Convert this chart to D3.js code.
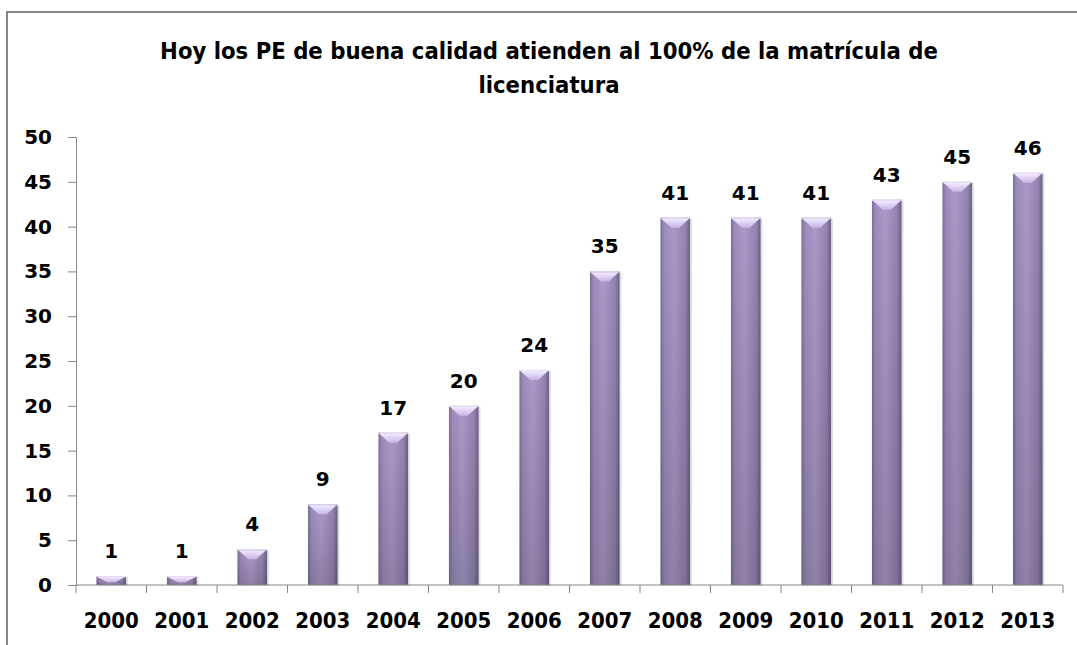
<!DOCTYPE html>
<html>
<head>
<meta charset="utf-8">
<script src="https://cdn.jsdelivr.net/npm/d3@7"></script>
<style>
  html, body { margin: 0; padding: 0; background: #fff; }
  svg { display: block; }
</style>
</head>
<body>
<script>
// data
const years = ["2000", "2001", "2002", "2003", "2004", "2005", "2006",
               "2007", "2008", "2009", "2010", "2011", "2012", "2013"];
const programas = [1, 1, 4, 9, 17, 20, 24, 35, 41, 41, 41, 43, 45, 46];
const yTicks = [0, 5, 10, 15, 20, 25, 30, 35, 40, 45, 50];
const titleLines = ["Hoy los PE de buena calidad atienden al 100% de la matrícula de",
                    "licenciatura"];

const width = 1077, height = 645;
const plotLeft = 76, plotRight = 1063, plotTop = 137, plotBottom = 585;

const svg = d3.select("body").append("svg")
    .attr("width", width)
    .attr("height", height);

const defs = svg.append("defs");

const body = defs.append("linearGradient").attr("id", "barBody")
    .attr("x1", 0).attr("x2", 1).attr("y1", 0).attr("y2", 0);
body.append("stop").attr("offset", 0).attr("stop-color", "#7d6d99");
body.append("stop").attr("offset", 0.12).attr("stop-color", "#9c8bba");
body.append("stop").attr("offset", 0.45).attr("stop-color", "#ab9ac9");
body.append("stop").attr("offset", 0.85).attr("stop-color", "#9383b0");
body.append("stop").attr("offset", 1).attr("stop-color", "#6c5e86");

const cap = defs.append("linearGradient").attr("id", "barCap")
    .attr("x1", 0).attr("x2", 0).attr("y1", 0).attr("y2", 1);
cap.append("stop").attr("offset", 0).attr("stop-color", "#f3ebff");
cap.append("stop").attr("offset", 1).attr("stop-color", "#c6b4e4");

const shade = defs.append("linearGradient").attr("id", "barShade")
    .attr("x1", 0).attr("x2", 0).attr("y1", 0).attr("y2", 1);
shade.append("stop").attr("offset", 0).attr("stop-color", "#000").attr("stop-opacity", 0);
shade.append("stop").attr("offset", 1).attr("stop-color", "#000").attr("stop-opacity", 0.16);

// chart frame
svg.append("rect")
    .attr("x", 7).attr("y", 12)
    .attr("width", 1100).attr("height", 700)
    .attr("fill", "#fff")
    .attr("stroke", "#878787")
    .attr("stroke-width", 2);

// title
const title = svg.append("g")
    .attr("font-family", "'Liberation Sans Narrow', 'DejaVu Sans Condensed', 'Open Sans', sans-serif")
    .attr("font-weight", "bold")
    .attr("fill", "#000")
    .attr("text-anchor", "middle");

const t1 = title.append("text")
    .attr("x", 549).attr("y", 59)
    .attr("font-size", 26)
    .text(titleLines[0]);
// shrink/grow to the width the title takes in the picture
const w1 = t1.node().getComputedTextLength();
const fs = Math.min(30, 26 * 778 / w1);
t1.attr("font-size", fs);
title.append("text")
    .attr("x", 549).attr("y", 93)
    .attr("font-size", fs)
    .text(titleLines[1]);

// scales
const x = d3.scaleBand()
    .domain(years)
    .range([plotLeft, plotRight])
    .paddingInner(0.58)
    .paddingOuter(0.29);

const y = d3.scaleLinear()
    .domain([0, 50])
    .range([plotBottom, plotTop]);

const numFont = "'DejaVu Sans', Verdana, sans-serif";

// y axis
const yAxis = svg.append("g")
    .attr("transform", `translate(${plotLeft},0)`)
    .call(d3.axisLeft(y).tickValues(yTicks).tickSize(8).tickPadding(16).tickFormat(d3.format("d")));
yAxis.select(".domain").attr("stroke", "#868686");
yAxis.selectAll(".tick line").attr("stroke", "#868686");
yAxis.selectAll(".tick text")
    .attr("font-family", numFont)
    .attr("font-weight", "bold")
    .attr("font-size", 20)
    .attr("fill", "#000");

// bars
const bars = svg.append("g").selectAll("g")
    .data(years.map((yr, i) => ({ yr, v: programas[i] })))
    .join("g");

bars.append("rect")
    .attr("x", d => x(d.yr) + 2)
    .attr("y", d => y(d.v) + 1)
    .attr("width", x.bandwidth())
    .attr("height", d => y(0) - y(d.v))
    .attr("fill", "#000")
    .attr("opacity", 0.12);

bars.append("rect")
    .attr("x", d => x(d.yr))
    .attr("y", d => y(d.v))
    .attr("width", x.bandwidth())
    .attr("height", d => y(0) - y(d.v))
    .attr("fill", "url(#barBody)");

bars.append("rect")
    .attr("x", d => x(d.yr))
    .attr("y", d => y(d.v))
    .attr("width", x.bandwidth())
    .attr("height", d => y(0) - y(d.v))
    .attr("fill", "url(#barShade)");

bars.append("path")
    .attr("d", d => {
        const x0 = x(d.yr), w = x.bandwidth(), t = y(d.v);
        const h = Math.min(10, (y(0) - t) * 0.7);
        return `M${x0 + 1},${t + 1}L${x0 + w - 1},${t + 1}L${x0 + w / 2 + 4},${t + h}L${x0 + w / 2 - 4},${t + h}Z`;
    })
    .attr("fill", "url(#barCap)");

bars.append("rect")
    .attr("x", d => x(d.yr))
    .attr("y", d => y(d.v))
    .attr("width", x.bandwidth())
    .attr("height", 1.2)
    .attr("fill", "#e9def9");

// value labels
bars.append("text")
    .attr("x", d => x(d.yr) + x.bandwidth() / 2)
    .attr("y", d => y(d.v) - 18)
    .attr("text-anchor", "middle")
    .attr("font-family", numFont)
    .attr("font-weight", "bold")
    .attr("font-size", 20)
    .attr("fill", "#000")
    .text(d => d.v);

// x axis with ticks on category boundaries
const xAxis = svg.append("g")
    .attr("transform", `translate(0,${plotBottom})`);
xAxis.append("line")
    .attr("x1", plotLeft).attr("x2", plotRight)
    .attr("stroke", "#868686");
const bounds = years.map(yr => x(yr) - x.step() * x.paddingInner() / 2).concat([plotRight]);
xAxis.selectAll("line.tk")
    .data(bounds)
    .join("line")
    .attr("class", "tk")
    .attr("x1", d => d).attr("x2", d => d)
    .attr("y1", 0).attr("y2", 8)
    .attr("stroke", "#868686");
xAxis.selectAll("text")
    .data(years)
    .join("text")
    .attr("x", d => x(d) + x.bandwidth() / 2)
    .attr("y", 43)
    .attr("text-anchor", "middle")
    .attr("font-family", "'DejaVu Sans Condensed', 'DejaVu Sans', sans-serif")
    .attr("font-weight", "bold")
    .attr("font-size", 22)
    .attr("fill", "#000")
    .text(d => d);
</script>
</body>
</html>
